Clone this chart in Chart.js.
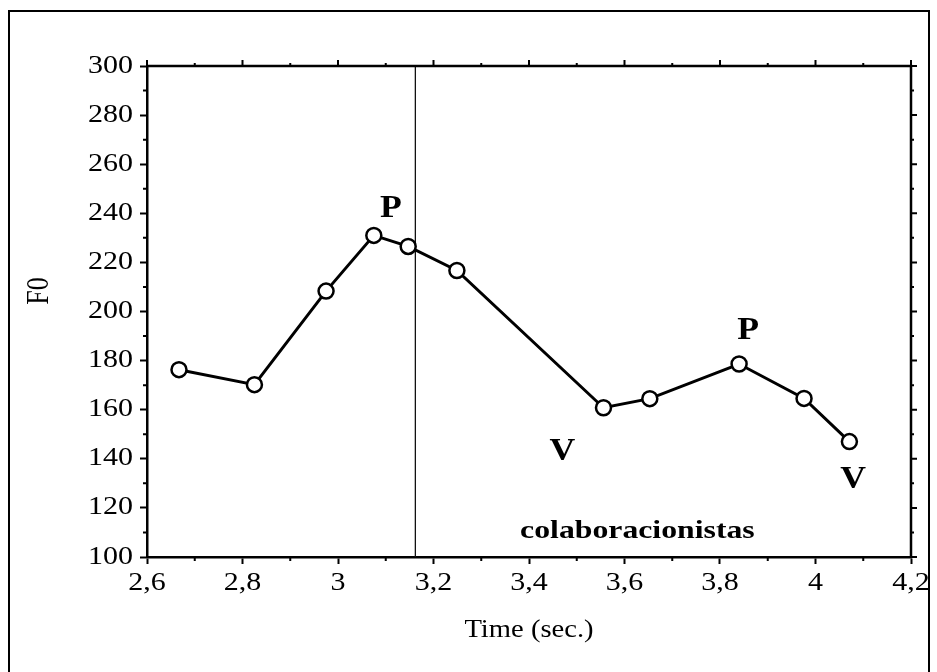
<!DOCTYPE html>
<html>
<head>
<meta charset="utf-8">
<script src="https://cdn.jsdelivr.net/npm/chart.js@4"></script>
<style>
html, body { margin: 0; padding: 0; background: #fff; }
</style>
</head>
<body>
<canvas id="f0chart" width="937" height="672"></canvas>
<script>
// F0 contour over time, one value per measured syllable
var timeSec = [2.667, 2.825, 2.975, 3.075, 3.147, 3.249, 3.556, 3.653, 3.84, 3.976, 4.071];
var f0Hz = [176.3, 170.2, 208.3, 231.0, 226.5, 216.7, 160.8, 164.5, 178.6, 164.6, 147.0];

var xTicks = [2.6, 2.8, 3, 3.2, 3.4, 3.6, 3.8, 4, 4.2];
var yTicks = [100, 120, 140, 160, 180, 200, 220, 240, 260, 280, 300];

// word boundary and peak/valley marks
var boundaryTime = 3.162;
var markText = ["P", "P", "V", "V"];
var markTime = [3.111, 3.859, 3.47, 4.079];
var markF0 = [238.5, 188.8, 139.5, 128.1];
var wordText = "colaboracionistas";
var wordTime = 3.627;
var wordF0 = 107.7;

var serif = "'Liberation Serif', 'Times New Roman', serif";

function fmt(v) {
    return String(Math.round(v * 10) / 10).replace('.', ',');
}

// the typeface in this figure runs wide, so text is stretched sideways
function wideText(ctx, text, x, y, sx) {
    ctx.save();
    ctx.translate(x, y);
    ctx.scale(sx, 1);
    ctx.fillText(text, 0, 0);
    ctx.restore();
}

var extras = {
    id: 'extras',
    beforeDatasetsDraw: function(chart) {
        var ctx = chart.ctx, a = chart.chartArea;
        var x = chart.scales.x.getPixelForValue(boundaryTime);
        ctx.save();
        ctx.strokeStyle = '#111';
        ctx.lineWidth = 1.3;
        ctx.beginPath();
        ctx.moveTo(x, a.top);
        ctx.lineTo(x, a.bottom);
        ctx.stroke();
        ctx.restore();
    },
    afterDraw: function(chart) {
        var ctx = chart.ctx, a = chart.chartArea;
        var sx = chart.scales.x, sy = chart.scales.y;
        ctx.save();
        ctx.strokeStyle = '#000';
        ctx.lineWidth = 2.5;
        // top and right edges of the plot box
        ctx.beginPath();
        ctx.moveTo(a.left, a.top);
        ctx.lineTo(a.right, a.top);
        ctx.lineTo(a.right, a.bottom);
        ctx.stroke();

        // mirrored ticks on top/right, minor ticks all round
        ctx.lineWidth = 2;
        ctx.beginPath();
        xTicks.forEach(function(v, i) {
            var px = sx.getPixelForValue(v);
            ctx.moveTo(px, a.top);
            ctx.lineTo(px, a.top - 6);
            if (i < xTicks.length - 1) {
                var mx = sx.getPixelForValue((v + xTicks[i + 1]) / 2);
                ctx.moveTo(mx, a.top);
                ctx.lineTo(mx, a.top - 3);
                ctx.moveTo(mx, a.bottom);
                ctx.lineTo(mx, a.bottom + 4);
            }
        });
        yTicks.forEach(function(v, i) {
            var py = sy.getPixelForValue(v);
            ctx.moveTo(a.right, py);
            ctx.lineTo(a.right + 6, py);
            if (i < yTicks.length - 1) {
                var my = sy.getPixelForValue((v + yTicks[i + 1]) / 2);
                ctx.moveTo(a.right, my);
                ctx.lineTo(a.right + 3, my);
                ctx.moveTo(a.left, my);
                ctx.lineTo(a.left - 4, my);
            }
        });
        ctx.stroke();

        // tick labels
        ctx.fillStyle = '#000';
        ctx.font = '25px ' + serif;
        ctx.textBaseline = 'middle';
        ctx.textAlign = 'center';
        xTicks.forEach(function(v) {
            wideText(ctx, fmt(v), sx.getPixelForValue(v), a.bottom + 26, 1.2);
        });
        ctx.textAlign = 'right';
        yTicks.forEach(function(v) {
            wideText(ctx, fmt(v), a.left - 14, sy.getPixelForValue(v), 1.2);
        });

        // axis titles
        ctx.textAlign = 'center';
        ctx.font = '26px ' + serif;
        wideText(ctx, 'Time (sec.)', (a.left + a.right) / 2, 630, 1.1);
        ctx.save();
        ctx.translate(40, 291);
        ctx.rotate(-Math.PI / 2);
        ctx.scale(1, 1.2);
        ctx.fillText('F0', 0, 0);
        ctx.restore();

        // peak / valley letters and the word
        ctx.textBaseline = 'alphabetic';
        ctx.font = 'bold 31px ' + serif;
        markText.forEach(function(t, i) {
            wideText(ctx, t, sx.getPixelForValue(markTime[i]), sy.getPixelForValue(markF0[i]), 1.15);
        });
        ctx.font = 'bold 25px ' + serif;
        wideText(ctx, wordText, sx.getPixelForValue(wordTime), sy.getPixelForValue(wordF0), 1.27);

        // page frame
        ctx.lineWidth = 2;
        ctx.beginPath();
        ctx.moveTo(9, 672);
        ctx.lineTo(9, 11);
        ctx.lineTo(929, 11);
        ctx.lineTo(929, 672);
        ctx.stroke();
        ctx.restore();
    }
};

new Chart(document.getElementById('f0chart'), {
    type: 'scatter',
    data: {
        datasets: [{
            data: timeSec.map(function(t, i) { return {x: t, y: f0Hz[i]}; }),
            showLine: true,
            borderColor: '#000',
            borderWidth: 3,
            pointRadius: 7.5,
            pointHoverRadius: 7.5,
            pointBorderWidth: 2.5,
            pointBackgroundColor: '#fff',
            pointBorderColor: '#000'
        }]
    },
    options: {
        responsive: false,
        animation: false,
        layout: { padding: { top: 66, right: 26, left: 0, bottom: 0 } },
        plugins: { legend: { display: false }, tooltip: { enabled: false } },
        scales: {
            x: {
                type: 'linear',
                min: 2.6,
                max: 4.2,
                afterBuildTicks: function(s) { s.ticks = xTicks.map(function(v) { return {value: v}; }); },
                afterFit: function(s) { s.height = 115; },
                ticks: { display: false },
                grid: { drawOnChartArea: false, tickLength: 7, tickWidth: 2, tickColor: '#000' },
                border: { color: '#000', width: 2.5 }
            },
            y: {
                min: 100,
                max: 300,
                afterBuildTicks: function(s) { s.ticks = yTicks.map(function(v) { return {value: v}; }); },
                afterFit: function(s) { s.width = 147; },
                ticks: { display: false },
                grid: { drawOnChartArea: false, tickLength: 7, tickWidth: 2, tickColor: '#000' },
                border: { color: '#000', width: 2.5 }
            }
        }
    },
    plugins: [extras]
});
</script>
</body>
</html>
